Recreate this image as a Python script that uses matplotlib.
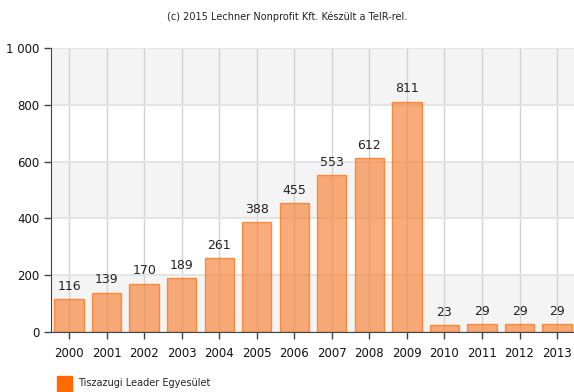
import matplotlib.pyplot as plt
from matplotlib.patches import Rectangle

years = ['2000', '2001', '2002', '2003', '2004', '2005', '2006',
         '2007', '2008', '2009', '2010', '2011', '2012', '2013']
values = [116, 139, 170, 189, 261, 388, 455, 553, 612, 811, 23, 29, 29, 29]
series_name = 'Tiszazugi Leader Egyesület'
credit = '(c) 2015 Lechner Nonprofit Kft. Készült a TeIR-rel.'
yticks = [0, 200, 400, 600, 800, 1000]

fig = plt.figure(figsize=(5.74, 3.92), dpi=100)
ax = fig.add_axes([51 / 574, 1 - 332 / 392, 523 / 574, 284 / 392])

# alternating background bands
for i, lo in enumerate(yticks[:-1]):
    if i % 2 == 0:
        ax.axhspan(lo, yticks[i + 1], color='#f4f4f4', zorder=0, lw=0)

x = list(range(len(years)))
ax.bar(x, values, width=0.78, color='#f7843c', alpha=0.68,
       edgecolor='#ff6a00', linewidth=1.0, zorder=2)
for xi, v in zip(x, values):
    ax.text(xi, v + 22, str(v), ha='center', va='bottom', fontsize=9,
            color='#222222', zorder=4)

ax.set_xlim(-0.48, 13.45)
ax.set_ylim(0, 1000)
ax.set_xticks(x)
ax.set_xticklabels(years, fontsize=8.5)
ax.set_yticks(yticks)
ax.set_yticklabels(['{:,}'.format(t).replace(',', ' ') for t in yticks],
                   fontsize=8.5)

for xi in x:
    ax.axvline(xi, color='#d2d2d2', lw=1, zorder=1)
for t in yticks:
    ax.axhline(t, color='#e4e4e4', lw=1.5, zorder=1)

for s in ['top', 'right']:
    ax.spines[s].set_visible(False)
ax.spines['left'].set_color('#444444')
ax.spines['bottom'].set_color('#444444')
ax.spines['left'].set_zorder(5)
ax.spines['bottom'].set_zorder(5)
ax.tick_params(axis='both', colors='#444444', labelcolor='#111111',
               length=5, width=1)
ax.tick_params(axis='x', pad=6)

fig.text(0.5, 1 - 17 / 392, credit, ha='center', va='center', fontsize=7,
         color='#222222')

# legend entry below the plot
fig.patches.append(Rectangle((57 / 574, 1 - 391 / 392), 15 / 574, 15 / 392,
                             transform=fig.transFigure, color='#ff6a00'))
fig.text(78 / 574, 1 - 383 / 392, series_name, ha='left', va='center',
         fontsize=7, color='#222222')

fig.savefig('out.png', dpi=100)
